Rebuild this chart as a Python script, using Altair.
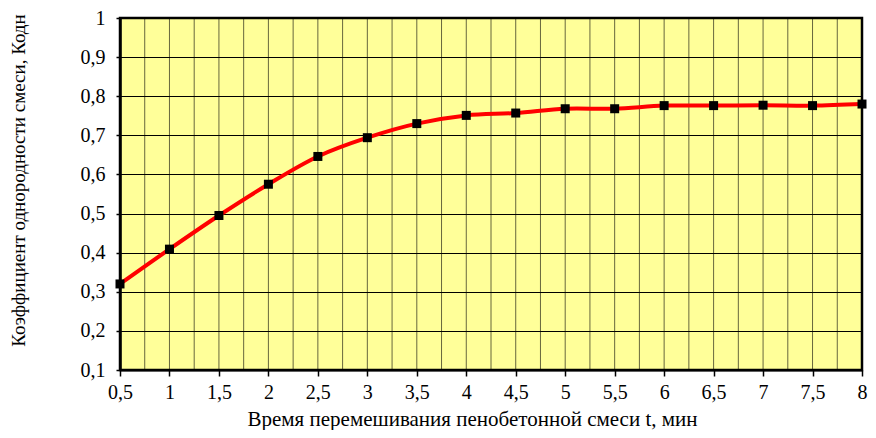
import altair as alt
import pandas as pd

# Data
t_values = [0.5, 1, 1.5, 2, 2.5, 3, 3.5, 4, 4.5, 5, 5.5, 6, 6.5, 7, 7.5, 8]
k_values = [0.320, 0.409, 0.495, 0.575, 0.646, 0.694, 0.730, 0.751, 0.757,
            0.768, 0.768, 0.776, 0.776, 0.777, 0.776, 0.780]

x_ticks = [0.5, 1, 1.5, 2, 2.5, 3, 3.5, 4, 4.5, 5, 5.5, 6, 6.5, 7, 7.5, 8]
x_grid = [0.5, 0.75, 1, 1.25, 1.5, 1.75, 2, 2.25, 2.5, 2.75, 3, 3.25, 3.5, 3.75,
          4, 4.25, 4.5, 4.75, 5, 5.25, 5.5, 5.75, 6, 6.25, 6.5, 6.75, 7, 7.25,
          7.5, 7.75, 8]
y_ticks = [0.1, 0.2, 0.3, 0.4, 0.5, 0.6, 0.7, 0.8, 0.9, 1.0]

x_title = "Время перемешивания пенобетонной смеси t, мин"
y_title = "Коэффициент  однородности смеси, Кодн"

df = pd.DataFrame({"t": t_values, "k": k_values})
grid_df = pd.DataFrame({"t": x_grid})

FONT = "Liberation Serif"
PLOT_H = 352

x_enc = alt.X(
    "t:Q",
    scale=alt.Scale(domain=[0.5, 8], nice=False, zero=False),
    axis=alt.Axis(
        values=x_ticks,
        tickCount=len(x_ticks),
        title=x_title,
        labelExpr="replace(format(datum.value, '~g'), '.', ',')",
        labelOverlap=False,
        labelFlush=False,
        labelFont=FONT,
        labelFontSize=20,
        labelColor="black",
        labelPadding=6,
        tickSize=6,
        tickColor="black",
        tickWidth=1.5,
        grid=False,
        domainColor="black",
        domainWidth=2,
        titleFont=FONT,
        titleFontSize=21,
        titleFontWeight="normal",
        titleColor="black",
        titleX=352,
        titleY=55,
        titleBaseline="alphabetic",
        titleAnchor="middle",
    ),
)

y_enc = alt.Y(
    "k:Q",
    scale=alt.Scale(domain=[0.1, 1.0], nice=False, zero=False),
    axis=alt.Axis(
        values=y_ticks,
        tickCount=200,
        title=y_title,
        labelExpr="replace(format(datum.value, '~g'), '.', ',')",
        labelOverlap=False,
        labelFlush=False,
        labelFont=FONT,
        labelFontSize=20,
        labelColor="black",
        labelPadding=11,
        tickSize=4,
        tickColor="black",
        tickWidth=1.5,
        grid=True,
        gridColor="black",
        gridWidth=1,
        domainColor="black",
        domainWidth=2.5,
        titleFont=FONT,
        titleFontSize=19,
        titleFontWeight="normal",
        titleColor="black",
        titleX=-102,
        titleY=162,
        titleAngle=270,
        titleAlign="center",
        titleBaseline="middle",
    ),
)

vgrid = alt.Chart(grid_df).mark_rule(color="black", opacity=0.6, strokeWidth=1).encode(
    x=x_enc, y=alt.value(0), y2=alt.value(PLOT_H)
)

base = alt.Chart(df).encode(x=x_enc, y=y_enc)
line = base.mark_line(color="#FF0000", strokeWidth=4, interpolate="catmull-rom")
points = base.mark_square(color="black", size=81, opacity=1, filled=True)

chart = (
    alt.layer(vgrid, line, points)
    .properties(
        width=742,
        height=PLOT_H,
        autosize=alt.AutoSizeParams(type="none"),
        padding={"left": 112, "top": 10, "right": 6, "bottom": 60},
        background="white",
    )
    .configure_view(fill="#FFFF99", stroke="black", strokeWidth=2.5)
)

chart.save("out.html", embed_options={"renderer": "svg", "actions": False})
